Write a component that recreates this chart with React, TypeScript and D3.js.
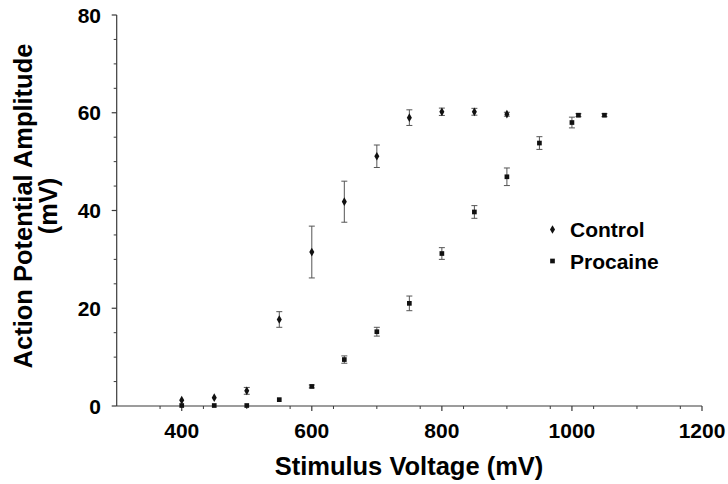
import React from "react";
import * as d3 from "d3";

// stimulus voltages (mV)
const controlX = [400, 450, 500, 550, 600, 650, 700, 750, 800, 850, 900];
const controlY = [1.2, 1.7, 3.1, 17.7, 31.5, 41.8, 51.1, 59.0, 60.2, 60.2, 59.7];
const controlErr = [0.2, 0.2, 0.7, 1.6, 5.3, 4.2, 2.3, 1.6, 0.75, 0.7, 0.4];

const procaineX = [400, 450, 500, 550, 600, 650, 700, 750, 800, 850, 900, 950, 1000, 1010, 1050];
const procaineY = [0.1, 0.1, 0.1, 1.3, 4.0, 9.5, 15.2, 21.0, 31.2, 39.7, 46.9, 53.8, 58.0, 59.5, 59.5];
const procaineErr = [0, 0, 0, 0.1, 0.3, 0.75, 0.9, 1.5, 1.2, 1.3, 1.8, 1.3, 1.1, 0.3, 0.3];

const xTicks = [400, 600, 800, 1000, 1200];
const yTicks = [0, 20, 40, 60, 80];

const sizing = { width: 728, height: 484, left: 116.7, right: 702, top: 15, bottom: 406 };

const font = "'Liberation Sans', Arial, Helvetica, sans-serif";

function App() {
  const x = d3.scaleLinear().domain([300, 1200]).range([sizing.left, sizing.right]);
  const y = d3.scaleLinear().domain([0, 80]).range([sizing.bottom, sizing.top]);

  // minor ticks: thirds of 200 on x, every 5 on y
  const xMinor = d3.range(300, 1200, 200 / 3).filter((v) => v > 300.1 && Math.abs((v - 400) % 200) > 1 && Math.abs((v - 400) % 200) < 199);
  const yMinor = d3.range(0, 80, 5).filter((v) => v % 20 !== 0);

  const diamond = d3.symbol().type(d3.symbolDiamond).size(22);
  const square = d3.symbol().type(d3.symbolSquare).size(22);
  const axisColor = "#3a3a3a";

  const errBars = (xs: number[], ys: number[], es: number[], key: string) =>
    xs.map((xv, i) => {
      if (es[i] < 0.25) return null;
      const cx = x(xv);
      const y1 = y(ys[i] + es[i]);
      const y2 = y(ys[i] - es[i]);
      return (
        <g key={`${key}${i}`} stroke="#555" strokeWidth={1}>
          <line x1={cx} x2={cx} y1={y1} y2={y2} />
          <line x1={cx - 3} x2={cx + 3} y1={y1} y2={y1} />
          <line x1={cx - 3} x2={cx + 3} y1={y2} y2={y2} />
        </g>
      );
    });

  return (
    <svg
      width={sizing.width}
      height={sizing.height}
      style={{ position: "absolute", left: 0, top: 0, background: "white" }}
      fontFamily={font}
      fontWeight="bold"
    >
      {/* axes */}
      <line x1={sizing.left} x2={sizing.left} y1={sizing.top} y2={sizing.bottom} stroke={axisColor} strokeWidth={1.2} />
      <line x1={sizing.left} x2={sizing.right} y1={sizing.bottom} y2={sizing.bottom} stroke={axisColor} strokeWidth={1.2} />
      {yTicks.map((t) => (
        <g key={`yt${t}`}>
          <line x1={sizing.left - 5} x2={sizing.left} y1={y(t)} y2={y(t)} stroke={axisColor} strokeWidth={1.2} />
          <text x={101} y={y(t)} dy="0.36em" textAnchor="end" fontSize={21}>
            {t}
          </text>
        </g>
      ))}
      {yMinor.map((t) => (
        <line key={`ym${t}`} x1={sizing.left - 3} x2={sizing.left} y1={y(t)} y2={y(t)} stroke={axisColor} strokeWidth={1} />
      ))}
      {xTicks.map((t) => (
        <g key={`xt${t}`}>
          <line x1={x(t)} x2={x(t)} y1={sizing.bottom} y2={sizing.bottom + 5} stroke={axisColor} strokeWidth={1.2} />
          <text x={x(t)} y={438} textAnchor="middle" fontSize={21}>
            {t}
          </text>
        </g>
      ))}
      {xMinor.map((t) => (
        <line key={`xm${t}`} x1={x(t)} x2={x(t)} y1={sizing.bottom} y2={sizing.bottom + 3} stroke={axisColor} strokeWidth={1} />
      ))}

      {/* axis titles */}
      <text x={409} y={475} textAnchor="middle" fontSize={25.5}>
        Stimulus Voltage (mV)
      </text>
      <g transform="translate(32,206) rotate(-90)">
        <text x={0} y={0} textAnchor="middle" fontSize={25.5}>
          Action Potential Amplitude
        </text>
        <text x={0} y={25} textAnchor="middle" fontSize={25.5}>
          (mV)
        </text>
      </g>

      {/* error bars */}
      {errBars(controlX, controlY, controlErr, "ce")}
      {errBars(procaineX, procaineY, procaineErr, "pe")}

      {/* markers */}
      {controlX.map((xv, i) => (
        <path key={`c${i}`} d={diamond() as string} transform={`translate(${x(xv)},${y(controlY[i])})`} fill="#111" />
      ))}
      {procaineX.map((xv, i) => (
        <path key={`p${i}`} d={square() as string} transform={`translate(${x(xv)},${y(procaineY[i])})`} fill="#111" />
      ))}

      {/* legend */}
      <path d={diamond() as string} transform="translate(552.5,229.5)" fill="#111" />
      <text x={570} y={236.5} fontSize={21}>
        Control
      </text>
      <path d={square() as string} transform="translate(552.5,261)" fill="#111" />
      <text x={570} y={268.5} fontSize={21}>
        Procaine
      </text>
    </svg>
  );
}

export default App;
